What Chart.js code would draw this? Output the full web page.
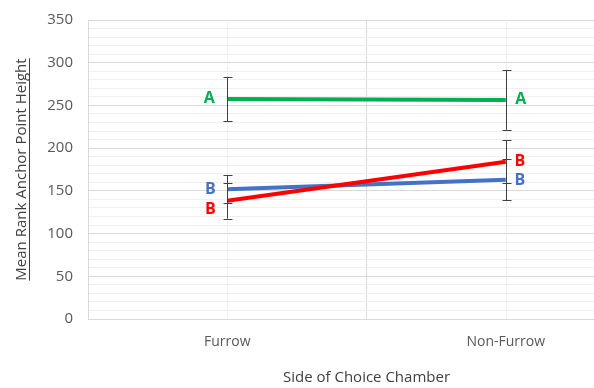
<!DOCTYPE html>
<html>
<head>
<meta charset="utf-8">
<script src="https://cdn.jsdelivr.net/npm/chart.js@4.4.0/dist/chart.umd.min.js"></script>
<style>
  html, body { margin: 0; padding: 0; background: #fff; overflow: hidden; }
  /* the plot runs past the right edge of the window, as in the original */
  #wrap { position: relative; width: 660px; height: 388px; }
</style>
</head>
<body>
<div id="wrap"><canvas id="anchorChart"></canvas></div>
<script>
const categories = ['Furrow', 'Non-Furrow'];

const greenMeans = [257.5, 256.5];
const greenErrors = [26, 35];
const greenLetters = ['A', 'A'];

const redMeans = [138.5, 184];
const redErrors = [21, 25];
const redLetters = ['B', 'B'];

const blueMeans = [152, 163];
const blueErrors = [16, 24];
const blueLetters = ['B', 'B'];

const FONT = "'Open Sans', 'DejaVu Sans', sans-serif";

// lignes secondaires, barres d'erreur et lettres
const annotations = {
    id: 'annotations',
    beforeDatasetsDraw(chart) {
        const { ctx, chartArea, scales: { x } } = chart;
        ctx.save();
        ctx.strokeStyle = '#efefef';
        ctx.lineWidth = 1;
        categories.forEach((c, i) => {
            const px = Math.round(x.getPixelForValue(i)) + 0.5;
            ctx.beginPath();
            ctx.moveTo(px, chartArea.top);
            ctx.lineTo(px, chartArea.bottom);
            ctx.stroke();
        });
        ctx.restore();
    },
    afterDatasetsDraw(chart) {
        const { ctx, scales: { x, y } } = chart;
        ctx.save();
        ctx.strokeStyle = '#404040';
        ctx.lineWidth = 1;
        chart.data.datasets.forEach(ds => {
            ds.data.forEach((v, i) => {
                const px = Math.round(x.getPixelForValue(i)) + 0.5;
                const top = y.getPixelForValue(v + ds.errors[i]);
                const bot = y.getPixelForValue(v - ds.errors[i]);
                ctx.beginPath();
                ctx.moveTo(px, top);
                ctx.lineTo(px, bot);
                ctx.moveTo(px - 4, Math.round(top) + 0.5);
                ctx.lineTo(px + 5, Math.round(top) + 0.5);
                ctx.moveTo(px - 4, Math.round(bot) + 0.5);
                ctx.lineTo(px + 5, Math.round(bot) + 0.5);
                ctx.stroke();
            });
        });
        ctx.font = 'bold 16px ' + FONT;
        ctx.textAlign = 'center';
        ctx.textBaseline = 'middle';
        chart.data.datasets.forEach(ds => {
            ds.letters.forEach((t, i) => {
                const shift = ds.letterShift[i];
                ctx.fillStyle = ds.borderColor;
                ctx.fillText(t, x.getPixelForValue(i) + shift[0], y.getPixelForValue(ds.data[i]) + shift[1]);
            });
        });
        ctx.restore();
    },
    afterDraw(chart) {
        // soulignement du titre de l'axe Y
        const { ctx, scales: { y } } = chart;
        const t = y.options.title;
        ctx.save();
        ctx.font = t.font.size + 'px ' + FONT;
        const w = ctx.measureText(t.text).width;
        const cx = y.left + t.padding.top + t.font.size * 1.2 / 2;
        const cy = (y.top + y.bottom) / 2;
        ctx.strokeStyle = t.color;
        ctx.lineWidth = 1;
        ctx.beginPath();
        ctx.moveTo(Math.round(cx + 7) + 0.5, cy - w / 2);
        ctx.lineTo(Math.round(cx + 7) + 0.5, cy + w / 2);
        ctx.stroke();
        ctx.restore();
    }
};

new Chart(document.getElementById('anchorChart'), {
    type: 'line',
    data: {
        labels: categories,
        datasets: [
            {
                label: 'Green',
                data: greenMeans,
                errors: greenErrors,
                letters: greenLetters,
                letterShift: [[-18, -1], [15, 0]],
                borderColor: '#00B050',
                borderWidth: 4
            },
            {
                label: 'Red',
                data: redMeans,
                errors: redErrors,
                letters: redLetters,
                letterShift: [[-17, 9], [14, 0]],
                borderColor: '#FF0000',
                borderWidth: 4
            },
            {
                label: 'Blue',
                data: blueMeans,
                errors: blueErrors,
                letters: blueLetters,
                letterShift: [[-17, 0], [14, 1]],
                borderColor: '#4472C4',
                borderWidth: 4
            }
        ]
    },
    options: {
        responsive: true,
        maintainAspectRatio: false,
        animation: false,
        layout: { padding: { top: 20, right: 15, left: 0, bottom: 0 } },
        elements: { point: { radius: 0, hoverRadius: 0 }, line: { tension: 0, borderCapStyle: 'butt' } },
        scales: {
            x: {
                offset: true,
                grid: { offset: true, color: '#d9d9d9', drawTicks: false },
                border: { color: '#d9d9d9' },
                ticks: { color: '#595959', font: { family: FONT, size: 14 }, padding: 15 },
                title: {
                    display: true,
                    text: 'Side of Choice Chamber',
                    color: '#404040',
                    font: { family: FONT, size: 15 },
                    padding: { top: 0, bottom: 1 }
                },
                afterFit: scale => { scale.height = 69; scale.paddingLeft = 0; scale.paddingRight = 0; }
            },
            y: {
                min: 0,
                max: 350,
                grid: {
                    drawTicks: false,
                    color: c => (c.tick && c.tick.value % 50 === 0) ? '#d9d9d9' : '#efefef'
                },
                border: { color: '#d9d9d9' },
                ticks: {
                    stepSize: 10,
                    autoSkip: false,
                    color: '#595959',
                    font: { family: FONT, size: 15 },
                    padding: 15,
                    callback: v => v % 50 === 0 ? v : ''
                },
                title: {
                    display: true,
                    text: 'Mean Rank Anchor Point Height',
                    color: '#404040',
                    font: { family: FONT, size: 15 },
                    padding: { top: 13, bottom: 0 }
                },
                afterFit: scale => { scale.width = 88; scale.paddingTop = 0; scale.paddingBottom = 0; }
            }
        },
        plugins: {
            legend: { display: false },
            tooltip: { enabled: false }
        }
    },
    plugins: [annotations]
});
</script>
</body>
</html>
